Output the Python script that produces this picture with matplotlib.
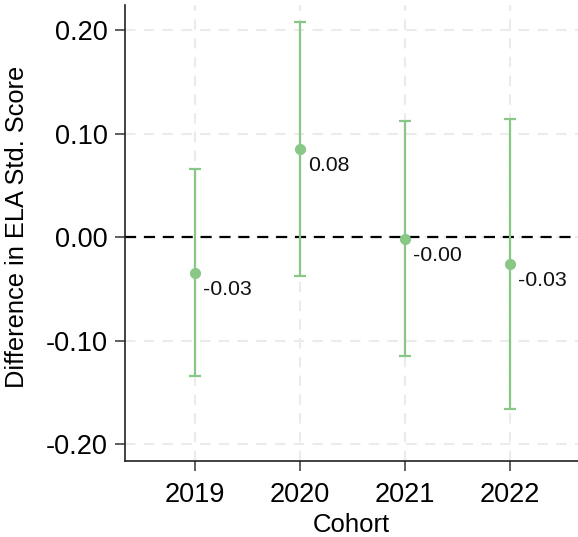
import matplotlib
matplotlib.use("Agg")
import matplotlib.pyplot as plt

plt.rcParams['font.family'] = ['Liberation Sans', 'DejaVu Sans']

cohorts = [2019, 2020, 2021, 2022]
estimates = [-0.0345, 0.085, -0.0015, -0.026]
ci_low = [-0.1345, -0.0375, -0.115, -0.1665]
ci_high = [0.0655, 0.2085, 0.1125, 0.1145]
labels = ["-0.03", "0.08", "-0.00", "-0.03"]
yticks = [-0.20, -0.10, 0.00, 0.10, 0.20]

green = '#88c785'

fig = plt.figure(figsize=(5.78, 5.37), dpi=100)
ax = fig.add_axes([0.2163, 0.1415, 0.7837, 0.8492])

ax.set_xlim(2018.333, 2022.65)
ax.set_ylim(-0.2165, 0.2245)

ax.grid(True, color='#ebebeb', linestyle=(0, (5, 4)), linewidth=1.5, zorder=0)
ax.set_axisbelow(True)
ax.axhline(0, color='black', linestyle=(0, (5, 3.5)), linewidth=1.6, zorder=1)

yerr = [[e - l for e, l in zip(estimates, ci_low)], [h - e for e, h in zip(estimates, ci_high)]]
ax.errorbar(cohorts, estimates, yerr=yerr, fmt='o', color=green, ecolor=green,
            elinewidth=1.6, capsize=4.3, capthick=1.6, markersize=7, zorder=3)

for x, y, t in zip(cohorts, estimates, labels):
    ax.annotate(t, (x, y), xytext=(6, -5), textcoords='offset points',
                ha='left', va='top', fontsize=15.3, color='#111111')

ax.set_xticks(cohorts)
ax.set_xticklabels([str(c) for c in cohorts])
ax.set_yticks(yticks)
ax.set_yticklabels([f"{v:.2f}" for v in yticks])

for s in ['top', 'right']:
    ax.spines[s].set_visible(False)
for s in ['left', 'bottom']:
    ax.spines[s].set_linewidth(1.2)
    ax.spines[s].set_color('#222222')

ax.tick_params(axis='both', length=7.5, width=1.2, color='#444444', labelsize=19.5)
ax.tick_params(axis='y', pad=5)
ax.tick_params(axis='x', pad=7.5)
ax.set_xlabel('Cohort', fontsize=18.5, labelpad=3.5)
ax.set_ylabel('Difference in ELA Std. Score', fontsize=18.3)
ax.yaxis.set_label_coords(-0.212, 0.513)

fig.savefig('out.png', dpi=100)
